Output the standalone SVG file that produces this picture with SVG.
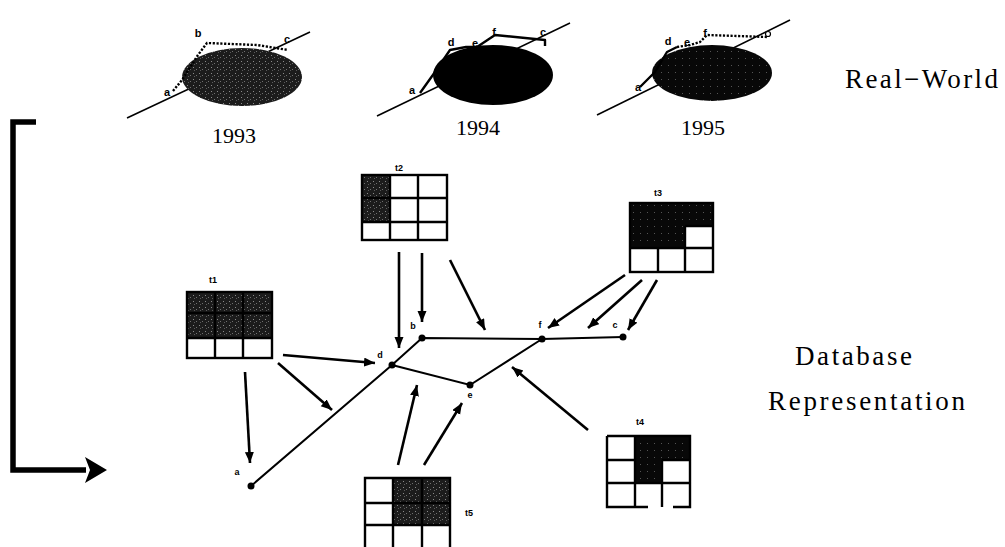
<svg xmlns="http://www.w3.org/2000/svg" width="1005" height="547" viewBox="0 0 1005 547">
  <defs>
    <marker id="head" markerUnits="userSpaceOnUse" markerWidth="12" markerHeight="10" refX="11" refY="4.5" orient="auto">
      <path d="M0,0 L11,4.5 L0,9 z" fill="#000"/>
    </marker>
    <pattern id="stipple" width="6" height="6" patternUnits="userSpaceOnUse">
      <rect width="6" height="6" fill="#1c1c1c"/>
      <rect x="1" y="1" width="1" height="1" fill="#8a8a8a"/>
      <rect x="4" y="3" width="1" height="1" fill="#707070"/>
      <rect x="2" y="4" width="1" height="1" fill="#5a5a5a"/>
    </pattern>
    <pattern id="dense" width="7" height="7" patternUnits="userSpaceOnUse">
      <rect width="7" height="7" fill="#080808"/>
      <rect x="3" y="2" width="1" height="1" fill="#555"/>
    </pattern>
  </defs>
  <style>
    .road { fill: none; stroke: #000; stroke-width: 1.6; }
    .route { fill: none; stroke: #000; stroke-width: 2.4; stroke-linejoin: round; }
    .dotted { fill: none; stroke: #000; stroke-width: 2.4; stroke-dasharray: 2.2 1.6; }
    .year { font-family: "Liberation Serif", serif; font-size: 22px; text-anchor: middle; fill: #000; }
    .pt { font-family: "Liberation Sans", sans-serif; font-size: 11px; font-weight: bold; fill: #000; text-anchor: middle; }
    .big { font-family: "Liberation Serif", serif; font-size: 27px; fill: #000; }
    .grid { fill: none; stroke: #000; stroke-width: 2.4; }
    .cell { fill: #fff; }
    .lbl { font-family: "Liberation Sans", sans-serif; font-size: 9px; font-weight: bold; fill: #000; text-anchor: middle; }
    .edge { stroke: #000; stroke-width: 2; fill: none; }
    .arrow { stroke: #000; stroke-width: 2.6; fill: none; marker-end: url(#head); }
    .node { fill: #000; }
  </style>
  <rect width="1005" height="547" fill="#fff"/>

  <!-- Real-world snapshots -->
  <g id="world-1993">
    <line class="road" x1="127" y1="118" x2="310" y2="32"/>
    <ellipse cx="242" cy="77" rx="60" ry="29" fill="url(#stipple)"/>
    <polyline class="dotted" points="173,91 182,80 198,55 207,43 257,45 288,50"/>
    <text class="pt" x="167" y="96">a</text>
    <text class="pt" x="198" y="37">b</text>
    <text class="pt" x="287" y="43">c</text>
    <text class="year" x="234" y="143">1993</text>
  </g>
  <g id="world-1994">
    <line class="road" x1="377" y1="116" x2="570" y2="23"/>
    <ellipse cx="493" cy="75" rx="60" ry="30" fill="#000"/>
    <polyline class="route" points="420,93 435,72 450,50 466,47 477,47 495,35 545,40 545,46"/>
    <text class="pt" x="412" y="94">a</text>
    <text class="pt" x="451" y="46">d</text>
    <text class="pt" x="475" y="47">e</text>
    <text class="pt" x="494" y="36">f</text>
    <text class="pt" x="543" y="36">c</text>
    <text class="year" x="478" y="135">1994</text>
  </g>
  <g id="world-1995">
    <line class="road" x1="597" y1="115" x2="790" y2="20"/>
    <ellipse cx="712" cy="73" rx="60" ry="28" fill="url(#dense)"/>
    <polyline class="route" points="640,87 655,72 667,52 677,47"/>
    <polyline class="dotted" points="677,47 690,45 700,42 707,35 767,37"/>
    <circle cx="768" cy="34" r="2.5" fill="#fff" stroke="#000" stroke-width="1.2"/>
    <text class="pt" x="638" y="91">a</text>
    <text class="pt" x="668" y="45">d</text>
    <text class="pt" x="687" y="46">e</text>
    <text class="pt" x="705" y="37">f</text>
    <text class="year" x="703" y="135">1995</text>
  </g>

  <text id="real-world" class="big" x="845" y="88" font-size="28" textLength="153" lengthAdjust="spacing">Real−World</text>
  <g id="db-label">
    <text class="big" x="795" y="365" textLength="117" lengthAdjust="spacing">Database</text>
    <text class="big" x="768" y="410" textLength="197" lengthAdjust="spacing">Representation</text>
  </g>

  <!-- bracket from real world down to the database graph -->
  <g id="bracket">
    <polyline points="36,122 13,122 13,470 86,470" fill="none" stroke="#000" stroke-width="5.5" stroke-linejoin="miter"/>
    <path d="M85,457 L107,470 L85,483 L90,470 z" fill="#000"/>
  </g>

  <!-- tables -->
  <g id="t1">
    <rect x="187" y="292" width="85" height="46" fill="url(#stipple)"/>
    <rect class="cell" x="187" y="338" width="85" height="20"/>
    <rect class="grid" x="187" y="292" width="85" height="66"/>
    <path class="grid" d="M215,292 V358 M243,292 V358 M187,313 H272 M187,338 H272"/>
    <text class="lbl" x="213" y="283">t1</text>
  </g>
  <g id="t2">
    <rect x="362" y="175" width="28" height="47" fill="url(#stipple)"/>
    <rect class="grid" x="362" y="175" width="85" height="65"/>
    <path class="grid" d="M390,175 V240 M418,175 V240 M362,198 H447 M362,222 H447"/>
    <text class="lbl" x="399" y="171">t2</text>
  </g>
  <g id="t3">
    <rect x="630" y="203" width="83" height="45" fill="url(#dense)"/>
    <rect class="cell" x="685" y="226" width="28" height="22"/>
    <rect class="grid" x="630" y="203" width="83" height="69"/>
    <path class="grid" d="M685,226 V272 M658,248 V272 M685,226 H713 M630,248 H713"/>
    <text class="lbl" x="658" y="196">t3</text>
  </g>
  <g id="t4">
    <rect x="635" y="436" width="55" height="24" fill="url(#dense)"/>
    <rect x="635" y="460" width="27" height="23" fill="url(#dense)"/>
    <path class="grid" d="M607,436 H690 V507 H673 M648,507 H607 V436 M635,436 V507 M662,460 V507 M607,460 H635 M662,460 H690 M607,483 H690"/>
    <text class="lbl" x="640" y="425">t4</text>
  </g>
  <g id="t5">
    <rect x="393" y="478" width="57" height="47" fill="url(#stipple)"/>
    <path class="grid" d="M365,550 V478 H450 V550 M393,478 V550 M422,478 V550 M365,503 H450 M365,525 H450"/>
    <text class="lbl" x="469" y="516">t5</text>
  </g>

  <!-- graph edges and arrows -->
  <g id="connectors">
    <path class="edge" d="M251,486 L392,365 L422,338 L542,339 L623,337 M392,365 L470,385 L542,339"/>
    <line class="arrow" x1="245" y1="372" x2="250" y2="463"/>
    <line class="arrow" x1="283" y1="355" x2="375" y2="363"/>
    <line class="arrow" x1="278" y1="363" x2="332" y2="410"/>
    <line class="arrow" x1="399" y1="252" x2="399" y2="348"/>
    <line class="arrow" x1="422" y1="253" x2="422" y2="322"/>
    <line class="arrow" x1="450" y1="260" x2="485" y2="330"/>
    <line class="arrow" x1="625" y1="275" x2="548" y2="328"/>
    <line class="arrow" x1="642" y1="280" x2="588" y2="328"/>
    <line class="arrow" x1="657" y1="280" x2="628" y2="330"/>
    <line class="arrow" x1="588" y1="430" x2="512" y2="367"/>
    <line class="arrow" x1="398" y1="465" x2="417" y2="385"/>
    <line class="arrow" x1="424" y1="465" x2="462" y2="403"/>
  </g>

  <!-- graph nodes -->
  <g id="node-a"><circle class="node" cx="251" cy="486" r="3.5"/><text class="lbl" x="237" y="475">a</text></g>
  <g id="node-d"><circle class="node" cx="392" cy="365" r="3.5"/><text class="lbl" x="380" y="358">d</text></g>
  <g id="node-b"><circle class="node" cx="422" cy="338" r="3.5"/><text class="lbl" x="413" y="329">b</text></g>
  <g id="node-f"><circle class="node" cx="542" cy="339" r="3.5"/><text class="lbl" x="540" y="328">f</text></g>
  <g id="node-c"><circle class="node" cx="623" cy="337" r="3.5"/><text class="lbl" x="615" y="328">c</text></g>
  <g id="node-e"><circle class="node" cx="470" cy="385" r="3.5"/><text class="lbl" x="470" y="398">e</text></g>
</svg>
